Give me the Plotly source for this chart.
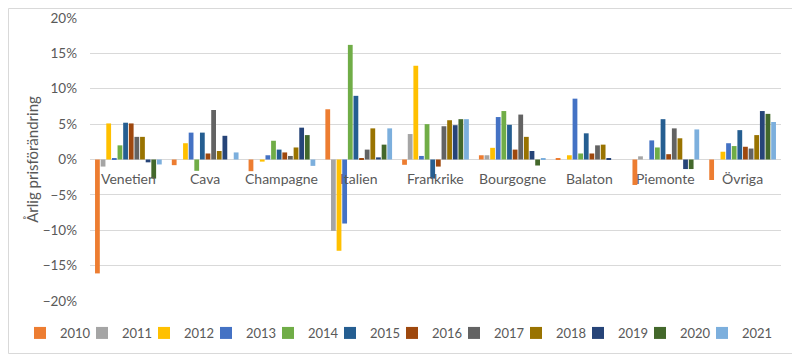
import plotly.graph_objects as go

categories = ["Venetien", "Cava", "Champagne", "Italien", "Frankrike", "Bourgogne", "Balaton", "Piemonte", "Övriga"]
years = ["2010", "2011", "2012", "2013", "2014", "2015", "2016", "2017", "2018", "2019", "2020", "2021"]

# values in percent, one list per year (order follows categories)
v2010 = [-16.1, -0.8, -1.65, 7.1, -0.75, 0.6, 0.15, -3.6, -2.9]
v2011 = [-1.0, 0.0, 0.0, -10.1, 3.6, 0.6, 0.0, 0.45, 0.0]
v2012 = [5.1, 2.3, -0.3, -12.9, 13.25, 1.65, 0.6, 0.0, 1.1]
v2013 = [0.2, 3.8, 0.6, -9.05, 0.5, 6.0, 8.6, 2.7, 2.3]
v2014 = [2.0, -1.6, 2.65, 16.2, 5.0, 6.85, 0.85, 1.7, 1.9]
v2015 = [5.2, 3.8, 1.4, 9.0, -2.7, 4.9, 3.7, 5.7, 4.15]
v2016 = [5.1, 0.85, 1.0, 0.2, -1.0, 1.4, 0.85, 0.75, 1.8]
v2017 = [3.2, 7.0, 0.5, 1.4, 4.7, 6.35, 2.0, 4.4, 1.55]
v2018 = [3.2, 1.2, 1.7, 4.4, 5.55, 3.2, 2.1, 3.0, 3.45]
v2019 = [-0.4, 3.35, 4.5, 0.3, 4.85, 1.2, 0.2, -1.35, 6.85]
v2020 = [-2.7, 0.0, 3.45, 2.1, 5.7, -0.85, 0.0, -1.35, 6.45]
v2021 = [-0.7, 1.0, -0.9, 4.4, 5.7, 0.2, 0.0, 4.25, 5.3]

series = [v2010, v2011, v2012, v2013, v2014, v2015, v2016, v2017, v2018, v2019, v2020, v2021]
colors = ["#ED7D31", "#A5A5A5", "#FFC000", "#4472C4", "#70AD47", "#255E91",
          "#9E480E", "#636363", "#997300", "#264478", "#43682B", "#7CAFDD"]

FONT = "Lato, Carlito, Calibri, sans-serif"
GRAY = "#595959"

# the page body has an 8px default margin, so the figure is drawn 8px smaller
W, H = 792, 349
ml, mr, mt, mb = 82, 19, 10, 56
pw, ph = W - ml - mr, H - mt - mb

fig = go.Figure()
legend_layouts = {}
for i, (yr, vals, c) in enumerate(zip(years, series, colors)):
    key = "legend" if i == 0 else f"legend{i + 1}"
    fig.add_trace(go.Bar(
        name=yr, x=categories, y=[v / 100 for v in vals],
        marker=dict(color=c, line=dict(width=0)),
        legend=key,
    ))
    # one small legend box per year so entries sit side by side like the original
    left_px = 12 + 62 * i
    legend_layouts[key] = dict(
        orientation="h", x=(left_px - ml) / pw, xanchor="left",
        y=-0.06, yanchor="top", bgcolor="rgba(0,0,0,0)",
        font=dict(family=FONT, size=13, color=GRAY), itemwidth=30,
    )

for cat in categories:
    fig.add_annotation(x=cat, y=0, xref="x", yref="y", text=cat, showarrow=False,
                       yanchor="top", yshift=-8, font=dict(family=FONT, size=14, color=GRAY))

fig.add_shape(type="rect", xref="paper", yref="paper",
              x0=-(ml - 0.5) / pw, x1=1 + (mr - 1.5) / pw,
              y0=-(mb - 3.5) / ph, y1=1 + (mt - 0.5) / ph,
              line=dict(color="#D9D9D9", width=1), layer="below")

fig.update_layout(
    width=W, height=H,
    margin=dict(l=ml, r=mr, t=mt, b=mb, autoexpand=False),
    paper_bgcolor="white", plot_bgcolor="white",
    barmode="group", bargap=0.12, bargroupgap=0.15,
    font=dict(family=FONT, size=14, color=GRAY),
    showlegend=True,
    xaxis=dict(showticklabels=False, showgrid=False, zeroline=False, showline=False,
               ticks=""),
    yaxis=dict(range=[-0.2, 0.2], dtick=0.05, tickformat=".0%",
               gridcolor="#D9D9D9", gridwidth=1, zeroline=True, zerolinecolor="#D9D9D9",
               zerolinewidth=1, showline=False, ticks="", ticklen=0,
               ticklabelstandoff=12,
               tickfont=dict(family=FONT, size=13.5, color=GRAY),
               title=dict(text="Årlig prisförändring", font=dict(family=FONT, size=15, color=GRAY),
                          standoff=0)),
    **legend_layouts,
)

fig.write_html("out.html")
